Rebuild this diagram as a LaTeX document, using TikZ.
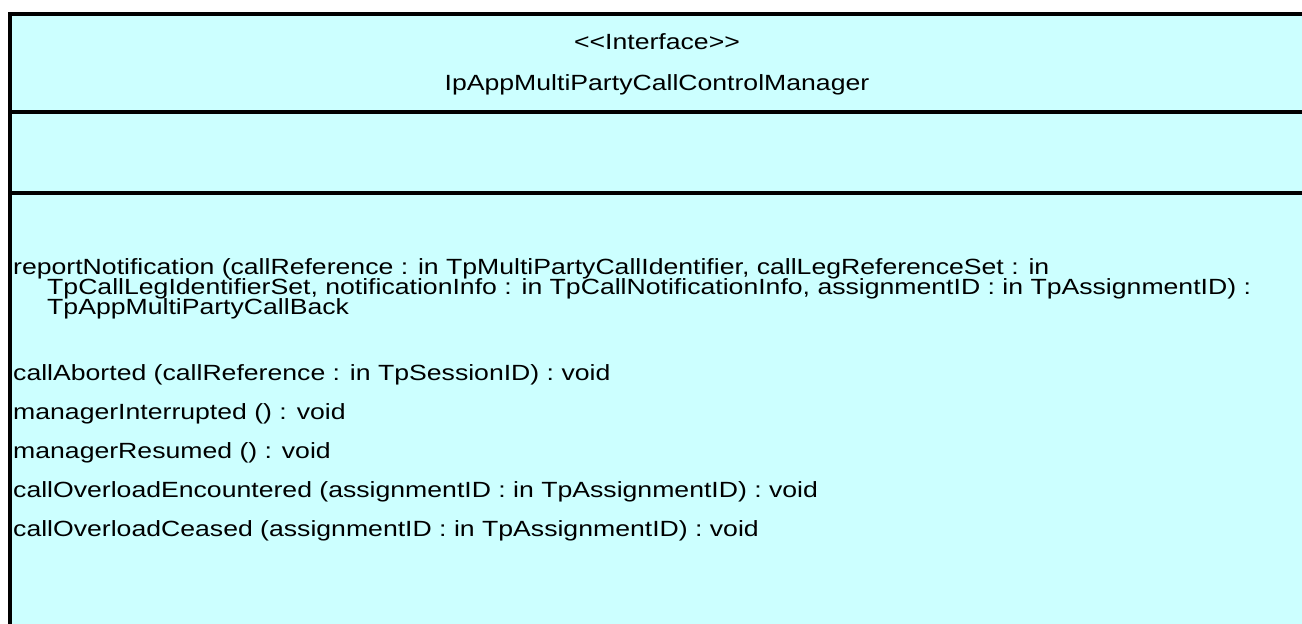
\documentclass[tikz,border=0pt]{standalone}
\usepackage{fontspec}
\newfontfamily\umlfont{Liberation Sans}[FakeStretch=1.21]
\definecolor{umlfill}{HTML}{CCFFFF}
\begin{document}
\begin{tikzpicture}[x=1pt,y=-1pt,
  umltext/.style={inner sep=0pt, anchor=base west, font=\umlfont\fontsize{22}{20}\selectfont, text=black},
  umltitle/.style={inner sep=0pt, anchor=base, font=\umlfont\fontsize{22}{20}\selectfont, text=black},
  border/.style={line width=4pt, draw=black}]
\useasboundingbox (0,0) rectangle (1302,624);
\fill[umlfill] (10,14) rectangle (1302,624);
\draw[border] (10,624) -- (10,14) -- (1302,14);
\draw[border] (10,112) -- (1302,112);
\draw[border] (10,193) -- (1302,193);
\node[umltitle] (stereo) at (657,49) {<<Interface>>};
\node[umltitle] (name) at (657,90) {IpAppMultiPartyCallControlManager};
\node[umltext] (op1a) at (13,274) {reportNotification (callReference : in TpMultiPartyCallIdentifier, callLegReferenceSet : in};
\node[umltext] (op1b) at (47,294) {TpCallLegIdentifierSet, notificationInfo : in TpCallNotificationInfo, assignmentID : in TpAssignmentID) :};
\node[umltext] (op1c) at (47,314) {TpAppMultiPartyCallBack};
\node[umltext] (op2) at (13,380) {callAborted (callReference : in TpSessionID) : void};
\node[umltext] (op3) at (13,419) {managerInterrupted () : void};
\node[umltext] (op4) at (13,458) {managerResumed () : void};
\node[umltext] (op5) at (13,497) {callOverloadEncountered (assignmentID : in TpAssignmentID) : void};
\node[umltext] (op6) at (13,536) {callOverloadCeased (assignmentID : in TpAssignmentID) : void};
\end{tikzpicture}
\end{document}
